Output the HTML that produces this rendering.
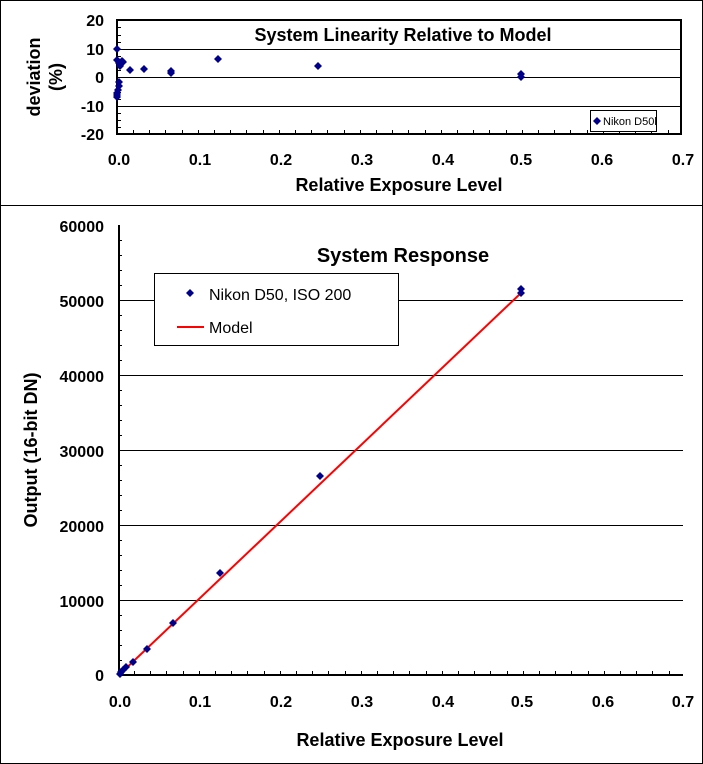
<!DOCTYPE html>
<html><head><style>
body{margin:0;background:#fff;}
svg{display:block;font-family:"Liberation Sans",Arial,sans-serif;}
</style></head><body>
<svg width="703" height="764" viewBox="0 0 703 764">
<defs><path id="d" d="M0,-4 L4,0 L0,4 L-4,0Z" fill="#00008b"/></defs>
<rect x="0.5" y="0.5" width="702" height="763" fill="#fff" stroke="#000"/>
<line x1="0" y1="205.5" x2="703" y2="205.5" stroke="#000"/>
<g stroke="#000" stroke-width="1">
<line x1="117" y1="49.5" x2="681" y2="49.5"/>
<line x1="117" y1="77.5" x2="681" y2="77.5"/>
<line x1="117" y1="106.5" x2="681" y2="106.5"/>
</g>
<rect x="117" y="20" width="564" height="114" fill="none" stroke="#000" stroke-width="2"/>
<g stroke="#000">
<path d="M117,27.5h4M117,35.5h4M117,42.5h4M117,56.5h4M117,63.5h4M117,70.5h4M117,84.5h4M117,92.5h4M117,99.5h4M117,113.5h4M117,120.5h4M117,127.5h4"/>
<path d="M133.5,134v-4M149.5,134v-4M165.5,134v-4M182.5,134v-4M198.5,134v-4M214.5,134v-4M230.5,134v-4M246.5,134v-4M263.5,134v-4M279.5,134v-4M295.5,134v-4M311.5,134v-4M327.5,134v-4M344.5,134v-4M360.5,134v-4M376.5,134v-4M392.5,134v-4M408.5,134v-4M425.5,134v-4M441.5,134v-4M457.5,134v-4M473.5,134v-4M489.5,134v-4M506.5,134v-4M522.5,134v-4M538.5,134v-4M554.5,134v-4M570.5,134v-4M587.5,134v-4M603.5,134v-4M619.5,134v-4M635.5,134v-4M651.5,134v-4M668.5,134v-4"/>
</g>
<g font-size="16" font-weight="bold" text-anchor="end">
<text x="104" y="26">20</text><text x="104" y="55">10</text><text x="104" y="83">0</text><text x="104" y="112">-10</text><text x="104" y="140">-20</text>
</g>
<g font-size="16" font-weight="bold" text-anchor="middle">
<text x="119" y="165">0.0</text><text x="200" y="165">0.1</text><text x="281" y="165">0.2</text><text x="362" y="165">0.3</text><text x="443" y="165">0.4</text><text x="521" y="165">0.5</text><text x="602" y="165">0.6</text><text x="683" y="165">0.7</text>
<text x="399" y="191" font-size="18">Relative Exposure Level</text>
<text x="403" y="41" font-size="18">System Linearity Relative to Model</text>
<text transform="translate(40,77) rotate(-90)" font-size="18">deviation</text>
<text transform="translate(62,77) rotate(-90)" font-size="18">(%)</text>
</g>
<g>
<use href="#d" x="117" y="49"/><use href="#d" x="117" y="60"/><use href="#d" x="119" y="63"/><use href="#d" x="120" y="66"/><use href="#d" x="122" y="61"/><use href="#d" x="123" y="62"/><use href="#d" x="130" y="70"/><use href="#d" x="144" y="69"/><use href="#d" x="171" y="71"/><use href="#d" x="171" y="73"/><use href="#d" x="218" y="59"/><use href="#d" x="318" y="66"/><use href="#d" x="521" y="74"/><use href="#d" x="521" y="77"/>
<use href="#d" x="119" y="82"/><use href="#d" x="119" y="86"/><use href="#d" x="118" y="90"/><use href="#d" x="117" y="93"/><use href="#d" x="117" y="95"/><use href="#d" x="117" y="97"/>
</g>
<rect x="590.5" y="110.5" width="66" height="21" fill="#fff" stroke="#000"/>
<use href="#d" x="597" y="121"/>
<text x="603" y="125" font-size="11">Nikon D50l</text>
<g stroke="#000">
<line x1="118" y1="300.5" x2="683" y2="300.5"/>
<line x1="118" y1="375.5" x2="683" y2="375.5"/>
<line x1="118" y1="450.5" x2="683" y2="450.5"/>
<line x1="118" y1="525.5" x2="683" y2="525.5"/>
<line x1="118" y1="600.5" x2="683" y2="600.5"/>
</g>
<line x1="119" y1="225" x2="119" y2="676" stroke="#000" stroke-width="2"/>
<line x1="118" y1="675" x2="683" y2="675" stroke="#000" stroke-width="2"/>
<g stroke="#000">
<path d="M118,240.5h4M118,255.5h4M118,270.5h4M118,285.5h4M118,315.5h4M118,330.5h4M118,345.5h4M118,360.5h4M118,390.5h4M118,405.5h4M118,420.5h4M118,435.5h4M118,465.5h4M118,480.5h4M118,495.5h4M118,510.5h4M118,540.5h4M118,555.5h4M118,570.5h4M118,585.5h4M118,615.5h4M118,630.5h4M118,645.5h4M118,660.5h4"/>
<path d="M134.5,675v-4M150.5,675v-4M166.5,675v-4M183.5,675v-4M199.5,675v-4M215.5,675v-4M231.5,675v-4M247.5,675v-4M264.5,675v-4M280.5,675v-4M296.5,675v-4M312.5,675v-4M328.5,675v-4M345.5,675v-4M361.5,675v-4M377.5,675v-4M393.5,675v-4M409.5,675v-4M426.5,675v-4M442.5,675v-4M458.5,675v-4M474.5,675v-4M490.5,675v-4M507.5,675v-4M523.5,675v-4M539.5,675v-4M555.5,675v-4M571.5,675v-4M588.5,675v-4M604.5,675v-4M620.5,675v-4M636.5,675v-4M652.5,675v-4M669.5,675v-4"/>
</g>
<g font-size="16" font-weight="bold" text-anchor="end">
<text x="104" y="232">60000</text><text x="104" y="307">50000</text><text x="104" y="382">40000</text><text x="104" y="457">30000</text><text x="104" y="532">20000</text><text x="104" y="607">10000</text><text x="104" y="681">0</text>
</g>
<g font-size="16" font-weight="bold" text-anchor="middle">
<text x="120" y="707">0.0</text><text x="200" y="707">0.1</text><text x="281" y="707">0.2</text><text x="362" y="707">0.3</text><text x="443" y="707">0.4</text><text x="522" y="707">0.5</text><text x="603" y="707">0.6</text><text x="683" y="707">0.7</text>
<text x="400" y="746" font-size="18">Relative Exposure Level</text>
<text x="403" y="262" font-size="20">System Response</text>
<text transform="translate(37,450) rotate(-90)" font-size="18">Output (16-bit DN)</text>
</g>
<line x1="119" y1="675" x2="521" y2="293" stroke="#f00" stroke-width="2"/>
<g>
<use href="#d" x="120" y="674"/><use href="#d" x="121" y="672"/><use href="#d" x="123" y="670"/><use href="#d" x="126" y="667"/><use href="#d" x="133" y="662"/><use href="#d" x="147" y="649"/><use href="#d" x="173" y="623"/><use href="#d" x="220" y="573"/><use href="#d" x="320" y="476"/><use href="#d" x="521" y="289"/><use href="#d" x="521" y="293"/>
</g>
<rect x="154.5" y="273.5" width="244" height="72" fill="#fff" stroke="#000"/>
<use href="#d" x="190" y="293"/>
<text x="209" y="300" font-size="16">Nikon D50, ISO 200</text>
<line x1="177" y1="327" x2="204" y2="327" stroke="#f00" stroke-width="2"/>
<text x="209" y="333" font-size="16">Model</text>
</svg>
</body></html>
